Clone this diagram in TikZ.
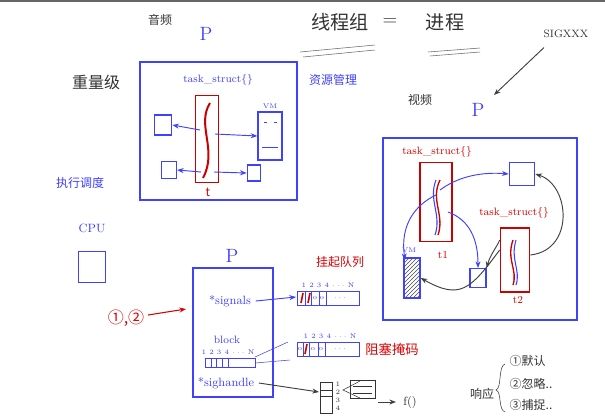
\documentclass[tikz,border=0pt]{standalone}
\usepackage{fontspec}
\newfontfamily\cjk{Noto Sans CJK SC}
\usetikzlibrary{arrows.meta,patterns,decorations.pathreplacing}
\begin{document}
\begin{tikzpicture}[x=0.75pt,y=-0.75pt,
 bl/.style={draw=blue!75!white,line width=1pt},
 rd/.style={draw=red!80!black,line width=1pt},
 ba/.style={blue!75!white,-{Stealth[length=5pt]},line width=0.7pt},
 ka/.style={black!75,-{Stealth[length=5pt]},line width=0.7pt},
 btx/.style={text=blue!75!white,font=\cjk\small},
 rtx/.style={text=red!85!black,font=\cjk\small},
 ktx/.style={text=black!80,font=\cjk\small},
 sq/.style={bl,minimum width=13pt,minimum height=15pt,inner sep=0pt},
 lbl/.style={inner sep=1pt}]
\useasboundingbox (0,0) rectangle (605,415);
\fill[white] (0,0) rectangle (605,415);
\draw[black!60,line width=2pt] (0,1) -- (605,1);
% titles
\node[ktx] (yin) at (160,20) {音频};
\node[text=blue!75!white,font=\Large] (P1) at (206,34) {P};
\node[ktx,font=\cjk\Large] (title1) at (340,22) {线程组};
\node[ktx,font=\Large] (eq) at (390,22) {=};
\node[ktx,font=\cjk\Large] (title2) at (445,22) {进程};
\draw[black!60] (300,52) -- (375,45) (303,57) -- (375,50) (428,52) -- (480,48) (430,56) -- (480,52);
\node[ktx,font=\footnotesize] (sig) at (566,34) {SIGXXX};
\coordinate (sigend) at (494,95);
\draw[ka] (sig.south west) ++(5,5) -- (sigend);
\node[ktx,font=\cjk\large] (zl) at (96,82) {重量级};
% box 1
\draw[bl] (140,62) rectangle (297,200);
\node[btx,font=\footnotesize] (ts1) at (218,80) {task\_struct\{\}};
\node[btx] (zygl) at (333,80) {资源管理};
\node[rd,minimum width=17pt,minimum height=65pt,inner sep=0pt] (t) at (207,139) {};
\draw[red!80!black,line width=1.5pt] (210,103) .. controls (196,125) and (218,150) .. (203,178);
\node[rtx] at (208,192) {t};
\node[sq] (s1) at (163,125) {};
\node[sq,minimum width=11pt,minimum height=13pt] (s2) at (169,170) {};
\node[bl,minimum width=18pt,minimum height=36pt,inner sep=0pt] (vm1) at (270,136) {};
\draw[blue!75!white] (262,147) -- (278,147) (264,122)--(267,122) (274,122)--(277,122);
\node[btx,font=\tiny] at (270,106) {VM};
\node[sq,minimum width=10pt,minimum height=12pt] (s3) at (254,173) {};
\draw[ba] (200,130) -- (s1.east);
\draw[ba] (215,134) -- (vm1.west);
\draw[ba] (201,172) -- (s2.east);
\draw[ba] (214,172) -- (s3.west);
% left labels
\node[btx] (zxdd) at (80,183) {执行调度};
\node[btx,font=\small] (cpu) at (92,228) {CPU};
\node[sq,minimum width=20pt,minimum height=23pt] (cpusq) at (92,267) {};
% box 2
\node[ktx] (sp) at (420,100) {视频};
\node[text=blue!75!white,font=\Large] (P2) at (478,110) {P};
\draw[bl] (383,138) rectangle (577,320);
\node[rtx,font=\footnotesize] (ts2) at (437,152) {task\_struct\{\}};
\node[rd,minimum width=24pt,minimum height=59pt,inner sep=0pt] (t1) at (436,202) {};
\draw[red!80!black,line width=1pt] (440,180) .. controls (430,200) and (445,215) .. (438,235);
\draw[blue!75!white,line width=0.8pt] (436,180) .. controls (428,200) and (442,215) .. (435,235);
\node[rtx,font=\footnotesize] at (443,255) {t1};
\node[rtx,font=\footnotesize] (ts3) at (514,213) {task\_struct\{\}};
\node[rd,minimum width=22pt,minimum height=48pt,inner sep=0pt] (t2) at (515,260) {};
\draw[red!80!black,line width=1pt] (513,240) .. controls (506,260) and (518,270) .. (513,285);
\draw[blue!75!white,line width=0.8pt] (516,240) .. controls (510,260) and (521,270) .. (516,285);
\node[rtx,font=\footnotesize] at (518,300) {t2};
\node[sq,minimum width=19pt,minimum height=17pt] (s4) at (522,174) {};
\node[draw=blue!75!white,line width=1pt,pattern=north east lines,pattern color=black!70,minimum width=12pt,minimum height=30pt,inner sep=0pt] (vm2) at (412,278) {};
\node[btx,font=\tiny] at (409,250) {VM};
\node[sq,minimum width=12pt,minimum height=14pt] (s5) at (478,278) {};
\draw[ba] (440,190) .. controls (460,175) and (485,172) .. (s4.west);
\draw[ba] (436,195) .. controls (415,205) and (400,225) .. (405,260);
\draw[ba] (448,212) .. controls (470,220) and (478,240) .. (s5.north);
\draw[ka] (t2.west) ++(0,-20) .. controls (498,245) and (490,255) .. (s5.north east);
\draw[ka] (t2.west) ++(0,-10) .. controls (470,290) and (460,300) .. (vm2.east);
\draw[ka] (t2.east) ++(0,-5) .. controls (575,250) and (570,185) .. (s4.east);
% signals box
\node[text=blue!75!white,font=\Large] (P3) at (232,256) {P};
\draw[bl] (193,268) rectangle (273,397);
\node[btx,font=\small] (sgn) at (230,301) {*signals};
\node[btx,font=\footnotesize] (blk) at (227,340) {block};
\node[btx,font=\small] (sgh) at (226,383) {*sighandle};
\node[rtx,font=\cjk\large] (q12) at (126,318) {①,②};
\draw[red!85!black,-{Stealth[length=5pt]},line width=0.8pt] (148,315) -- (186,309);
% arrays
\draw[bl,line width=0.7pt] (297,291) rectangle (359,305);
\foreach \x in {305,311,319,326} \draw[blue!75!white] (\x,291) -- (\x,305);
\draw[red!80!black,line width=1.2pt] (301,303)--(303,293) (308,303)--(310,293);
\node[btx,font=\tiny] at (315,298) {o};
\node[btx,font=\tiny] at (322,298) {o};
\node[btx,font=\tiny] at (340,298) {$\cdots$};
\node[btx,font=\tiny] at (328,285) {1 2 3 4 $\cdots$ N};
\draw[ba] (sgn.east) -- (296,297);
\node[rtx] (gq) at (340,262) {挂起队列};
\draw[bl,line width=0.7pt] (297,342) rectangle (359,356);
\foreach \x in {303,309,318,325} \draw[blue!75!white] (\x,342) -- (\x,356);
\node[btx,font=\tiny] at (300,349) {o};
\draw[red!80!black,line width=1.2pt] (305,354)--(307,344);
\node[btx,font=\tiny] at (313,349) {o};
\node[btx,font=\tiny] at (321,349) {o};
\node[btx,font=\tiny] at (340,349) {$\cdots$};
\node[btx,font=\tiny] at (330,336) {1 2 3 4 $\cdots$ N};
\node[rtx,font=\cjk\normalsize] (zs) at (392,349) {阻塞掩码};
\draw[bl,line width=0.6pt] (205,358) rectangle (255,367);
\foreach \x in {211,216,222,228} \draw[blue!75!white] (\x,358) -- (\x,367);
\node[btx,font=\tiny] at (228,352) {1 2 3 4 $\cdots$ N};
\draw[blue!75!white] (255,357) -- (288,342) (255,363) -- (290,360);
% sighandle
\draw[black!80] (320,382) rectangle (332,413);
\draw[black!80] (320,390)--(332,390) (320,396)--(332,396);
\node[ktx,font=\tiny,align=center,inner sep=0pt] at (338,396) {1\\2\\3\\4};
\draw[ka] (sgh.east) -- (319,392);
\draw[black!80] (360,381) -- (343,390) -- (360,398);
\draw[black!80] (350,380) rectangle (375,398);
\draw[black!80] (353,386)--(372,386) (353,393)--(372,393);
\draw[ka] (378,402) -- (396,402);
\node[ktx,font=\small] (f) at (410,402) {f()};
\node[ktx] (xy) at (482,394) {响应};
\draw[black!80] (505,364) .. controls (498,366) and (502,388) .. (496,390) .. controls (502,392) and (498,410) .. (505,412);
\node[ktx,anchor=west] (r1) at (505,361) {①默认};
\node[ktx,anchor=west] (r2) at (505,384) {②忽略..};
\node[ktx,anchor=west] (r3) at (505,405) {③捕捉..};
\end{tikzpicture}
\end{document}
